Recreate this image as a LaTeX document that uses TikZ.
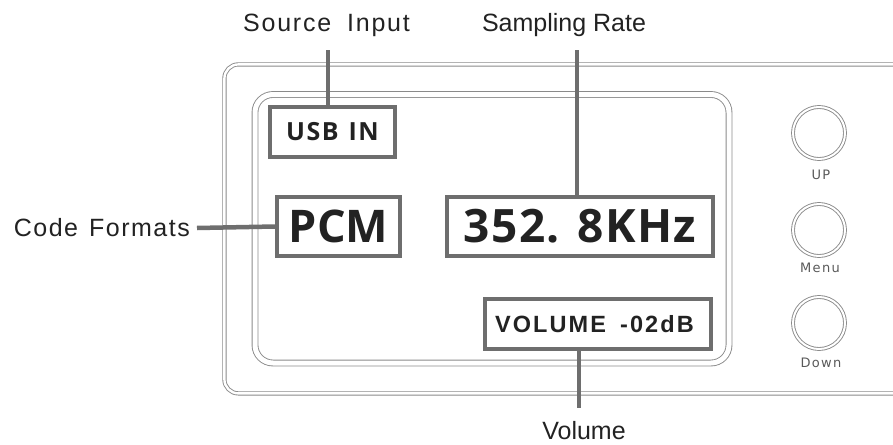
\documentclass[tikz,border=0pt]{standalone}
\usepackage{fontspec}
\setmainfont{Liberation Sans}
\newfontfamily\lcdfont{Open Sans}
\newfontfamily\volfont{Liberation Sans}[LetterSpace=9]
\newfontfamily\capfont{Liberation Sans}
\newfontfamily\btnfont{DejaVu Sans}[LetterSpace=10]
\definecolor{frame}{HTML}{6E6E6E}
\definecolor{bezel}{HTML}{8A8A8A}
\definecolor{ink}{HTML}{222222}

\begin{document}
\begin{tikzpicture}[x=1pt, y=-1pt,
    lcd/.style = {draw=frame, line width=4pt, inner sep=0pt, text=ink},
    lead/.style = {draw=frame, line width=4.5pt},
    caption/.style = {font=\capfont\fontsize{25}{25}\selectfont, text=ink, inner sep=0pt},
    bezelline/.style = {draw=bezel, line width=0.9pt, double=white},
    knob/.style = {bezelline, double distance=2pt, circle, minimum size=52pt, inner sep=0pt},
    btn/.style = {font=\btnfont\fontsize{13}{13}\selectfont, text=black!65, inner sep=0pt}]
    \useasboundingbox (0,0) rectangle (893,444);
    % front panel and display window
    \draw[bezelline, double distance=2.4pt, rounded corners=14pt] (224.4,64.4) rectangle (910,393.4);
    \draw[bezelline, double distance=5pt, rounded corners=18pt] (255,94.5) rectangle (729,363);
    % display fields
    \node[lcd, minimum width=125pt, minimum height=50pt, font=\lcdfont\bfseries\fontsize{25}{25}\selectfont\addfontfeature{LetterSpace=6}] (usb) at (332.5,132) {USB\hspace{10pt}IN};
    \node[lcd, minimum width=123pt, minimum height=59pt, font=\lcdfont\bfseries\fontsize{45}{45}\selectfont] (pcm) at (338.5,226.5) {PCM};
    \node[lcd, minimum width=266pt, minimum height=59pt, font=\lcdfont\bfseries\fontsize{46}{46}\selectfont\addfontfeature{LetterSpace=3}] (rate) at (580,226.5) {352. 8KHz};
    \node[lcd, minimum width=226pt, minimum height=50pt, font=\volfont\bfseries\fontsize{23.5}{24}\selectfont, text width=206pt, align=left] (vol) at (598,324) {VOLUME\hspace{14pt}-02dB};
    % captions
    \node[caption, font=\capfont\fontsize{25}{25}\selectfont\addfontfeature{LetterSpace=7}] (srclbl) at (326.5,25) {Source\hspace{16pt}Input};
    \node[caption] (ratelbl) at (564,25) {Sampling Rate};
    \node[caption, anchor=east, font=\capfont\fontsize{25}{25}\selectfont\addfontfeature{LetterSpace=6}] (codelbl) at (190,228) {Code\hspace{11pt}Formats};
    \node[caption] (vollbl) at (584,431) {Volume};
    \coordinate (srctop) at (328,50);
    \coordinate (ratetop) at (577,50);
    \coordinate (volbot) at (579,408);
    \draw[lead] (usb.north -| srctop) -- (srctop);
    \draw[lead] (rate.north -| ratetop) -- (ratetop);
    \draw[lead] ([xshift=7pt]codelbl.east) -- (pcm.west);
    \draw[lead] (vol.south -| volbot) -- (volbot);
    % buttons
    \node[knob] (up) at (819,133) {};
    \node[knob] (menu) at (819,230) {};
    \node[knob] (down) at (819,323) {};
    \node[btn] (uplbl) at (821,175) {UP};
    \node[btn] (menulbl) at (820,268) {Menu};
    \node[btn] (downlbl) at (821,363) {Down};
\end{tikzpicture}
\end{document}
